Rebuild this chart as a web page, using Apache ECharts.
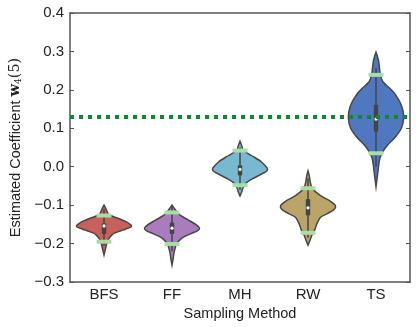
<!DOCTYPE html>
<html>
<head>
<meta charset="utf-8">
<script src="https://cdn.jsdelivr.net/npm/echarts@6/dist/echarts.min.js"></script>
<style>
html,body{margin:0;padding:0;background:#fff;}
#main{width:416px;height:327px;}
</style>
</head>
<body>
<div id="main"></div>
<script>
// categories + colours
var categories = ['BFS', 'FF', 'MH', 'RW', 'TS'];
var fillColors = ['#c8605c', '#a97cbe', '#78b8d0', '#baa468', '#5078c0'];

// violin outlines: [value, relative half width]
var bfsProfile = [[-0.100,0],[-0.106,0.05],[-0.115,0.1],[-0.125,0.17],[-0.134,0.5],[-0.143,0.8],[-0.150,0.95],[-0.154,1],[-0.158,0.95],[-0.165,0.68],[-0.172,0.4],[-0.178,0.28],[-0.185,0.2],[-0.191,0.14],[-0.200,0.1],[-0.212,0.06],[-0.230,0]];
var ffProfile = [[-0.100,0],[-0.107,0.07],[-0.115,0.15],[-0.126,0.29],[-0.139,0.6],[-0.150,0.86],[-0.160,1],[-0.167,0.92],[-0.173,0.72],[-0.180,0.5],[-0.186,0.36],[-0.199,0.18],[-0.210,0.12],[-0.225,0.07],[-0.240,0.04],[-0.256,0]];
var mhProfile = [[0.066,0],[0.055,0.06],[0.042,0.12],[0.026,0.49],[0.013,0.77],[0.000,0.95],[-0.006,1],[-0.011,0.97],[-0.017,0.84],[-0.030,0.49],[-0.043,0.21],[-0.056,0.1],[-0.066,0.06],[-0.076,0]];
var rwProfile = [[-0.011,0],[-0.025,0.05],[-0.039,0.08],[-0.056,0.15],[-0.074,0.43],[-0.087,0.75],[-0.098,0.96],[-0.105,1],[-0.113,0.92],[-0.122,0.7],[-0.132,0.45],[-0.149,0.32],[-0.165,0.24],[-0.178,0.14],[-0.190,0.08],[-0.204,0]];
var tsProfile = [[0.298,0],[0.285,0.06],[0.273,0.1],[0.255,0.13],[0.239,0.16],[0.221,0.25],[0.204,0.5],[0.187,0.71],[0.165,0.89],[0.145,0.98],[0.124,1],[0.100,0.92],[0.078,0.71],[0.057,0.43],[0.039,0.25],[0.022,0.14],[0.000,0.09],[-0.013,0.07],[-0.030,0.04],[-0.052,0]];
var profiles = [bfsProfile, ffProfile, mhProfile, rwProfile, tsProfile];

// box stats
var q1s = [-0.175, -0.175, -0.023, -0.127, 0.091];
var medians = [-0.154, -0.160, -0.007, -0.107, 0.124];
var q3s = [-0.147, -0.145, 0.004, -0.084, 0.161];
var whiskerLows = [-0.205, -0.220, -0.060, -0.185, 0.000];
var whiskerHighs = [-0.110, -0.105, 0.050, -0.030, 0.257];
// light green marks
var lowMarks = [-0.195, -0.201, -0.048, -0.172, 0.035];
var highMarks = [-0.127, -0.119, 0.042, -0.056, 0.239];

var trueValue = 0.128;

var yTicks = {min: -0.3, max: 0.4, interval: 0.1};

function fmt(v) {
    return (v < 0 ? '\u2212' : '') + Math.abs(v).toFixed(1);
}

var axisColor = '#555';
var font = 'Liberation Sans, Arial, sans-serif';

function renderViolin(params, api) {
    var i = api.value(0);
    var bw = api.size([1, 0])[0];
    var maxHalf = bw * 0.405;
    var cx = api.coord([i, 0])[0];
    var prof = profiles[i];
    var left = [], right = [];
    for (var k = 0; k < prof.length; k++) {
        var y = api.coord([i, prof[k][0]])[1];
        left.push([cx - prof[k][1] * maxHalf, y]);
        right.push([cx + prof[k][1] * maxHalf, y]);
    }
    var pts = left.concat(right.reverse());
    var yq1 = api.coord([i, q1s[i]])[1];
    var yq3 = api.coord([i, q3s[i]])[1];
    var ymed = api.coord([i, medians[i]])[1];
    var ywl = api.coord([i, whiskerLows[i]])[1];
    var ywh = api.coord([i, whiskerHighs[i]])[1];
    var ylo = api.coord([i, lowMarks[i]])[1];
    var yhi = api.coord([i, highMarks[i]])[1];
    var mark = 7.5;
    return {
        type: 'group',
        children: [
            {type: 'polygon', shape: {points: pts, smooth: 0.25},
             style: {fill: fillColors[i], stroke: '#474747', lineWidth: 1.5}},
            {type: 'line', shape: {x1: cx, y1: ywh, x2: cx, y2: ywl},
             style: {stroke: '#444', lineWidth: 1.5}},
            {type: 'rect', shape: {x: cx - 2.2, y: yq3, width: 4.4, height: yq1 - yq3, r: 1},
             style: {fill: '#444'}},
            {type: 'circle', shape: {cx: cx, cy: ymed, r: 1.6},
             style: {fill: '#fff'}},
            {type: 'line', shape: {x1: cx - mark, y1: yhi, x2: cx + mark, y2: yhi},
             style: {stroke: '#a8dea4', lineWidth: 4}},
            {type: 'line', shape: {x1: cx - mark, y1: ylo, x2: cx + mark, y2: ylo},
             style: {stroke: '#a8dea4', lineWidth: 4}}
        ]
    };
}

var chart = echarts.init(document.getElementById('main'));
var option = {
    animation: false,
    backgroundColor: '#fff',
    grid: {left: 61, right: 6, top: 13, bottom: 45},
    xAxis: [{
        type: 'category',
        data: categories,
        position: 'bottom',
        name: 'Sampling Method',
        nameLocation: 'middle',
        nameGap: 23,
        nameTextStyle: {fontFamily: font, fontSize: 14.5, color: '#222'},
        axisLine: {onZero: false, lineStyle: {color: axisColor, width: 1.5}},
        axisTick: {inside: true, alignWithLabel: true, length: 4, lineStyle: {color: axisColor}},
        axisLabel: {fontFamily: font, fontSize: 15, color: '#222', margin: 5}
    }, {
        type: 'category',
        data: categories,
        position: 'top',
        axisLine: {onZero: false, lineStyle: {color: axisColor, width: 1.5}},
        axisTick: {inside: true, alignWithLabel: true, length: 4, lineStyle: {color: axisColor}},
        axisLabel: {show: false}
    }],
    yAxis: [{
        type: 'value',
        min: yTicks.min, max: yTicks.max, interval: yTicks.interval,
        position: 'left',
        name: 'Estimated Coefficient {w|w}{s|4}{p|(5)}',
        nameLocation: 'middle',
        nameGap: 41,
        nameTextStyle: {
            fontFamily: font, fontSize: 14.5, color: '#222',
            rich: {
                w: {fontFamily: 'DejaVu Serif, serif', fontWeight: 'bold', fontSize: 14.5, color: '#222'},
                s: {fontFamily: 'DejaVu Serif, serif', fontSize: 9, color: '#222', verticalAlign: 'bottom', padding: [7, 0, 0, 0]},
                p: {fontFamily: 'DejaVu Serif, serif', fontSize: 14.5, color: '#222'}
            }
        },
        axisLine: {show: true, onZero: false, lineStyle: {color: axisColor, width: 1.5}},
        axisTick: {show: true, inside: true, length: 4, lineStyle: {color: axisColor}},
        axisLabel: {fontFamily: font, fontSize: 15, color: '#222', margin: 6, formatter: fmt},
        splitLine: {show: false}
    }, {
        type: 'value',
        min: yTicks.min, max: yTicks.max, interval: yTicks.interval,
        position: 'right',
        axisLine: {show: true, onZero: false, lineStyle: {color: axisColor, width: 1.5}},
        axisTick: {show: true, inside: true, length: 4, lineStyle: {color: axisColor}},
        axisLabel: {show: false},
        splitLine: {show: false}
    }],
    series: [{
        type: 'custom',
        renderItem: renderViolin,
        data: categories.map(function (c, i) { return [i, medians[i]]; }),
        encode: {x: 0, y: 1},
        clip: false,
        z: 2
    }, {
        type: 'line',
        data: [],
        z: 10,
        markLine: {
            symbol: 'none',
            silent: true,
            label: {show: false},
            lineStyle: {color: '#0b8a32', width: 4, type: [4, 5], cap: 'butt'},
            data: [{yAxis: trueValue}]
        }
    }]
};
chart.setOption(option);
</script>
</body>
</html>
